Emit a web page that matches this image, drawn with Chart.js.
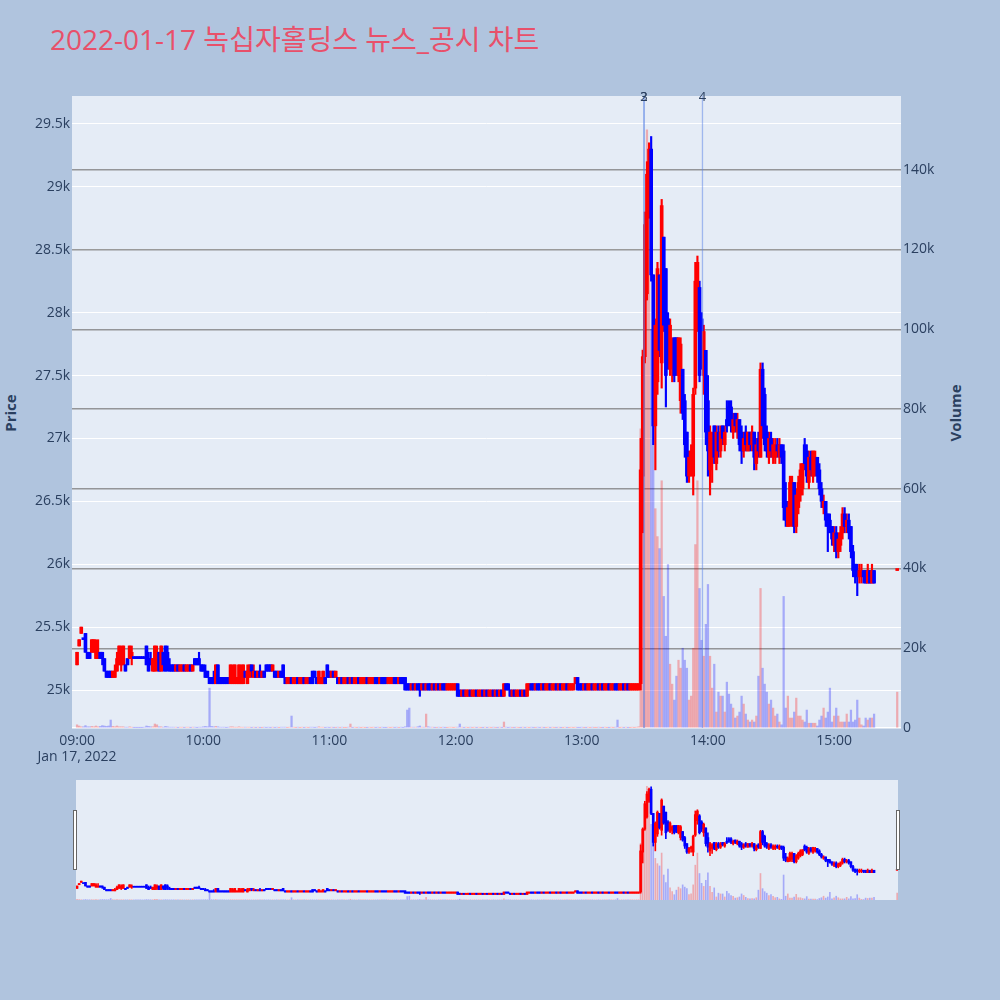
<!DOCTYPE html>
<html>
<head>
<meta charset="utf-8">
<script src="https://cdn.jsdelivr.net/npm/chart.js@4.4.0/dist/chart.umd.min.js"></script>
<style>
  html, body { margin: 0; padding: 0; width: 1000px; height: 1000px; background: #b0c4de; overflow: hidden; }
  #title { position: absolute; left: 50px; top: 25px; font-family: "Open Sans", "Noto Sans CJK KR", sans-serif; font-size: 28px; line-height: 28px; color: #e8506a; white-space: nowrap; }
  .axis-title { position: absolute; font-family: "Open Sans", sans-serif; font-size: 15px; font-weight: bold; color: #2a3f5f; white-space: nowrap; transform: translate(-50%, -50%) rotate(-90deg); }
  #main-wrap { position: absolute; left: 0; top: 0; width: 1000px; height: 770px; }
  #slider-wrap { position: absolute; left: 76px; top: 780px; width: 822px; height: 120px; background: #e5ecf6; }
  .grabber { position: absolute; top: 810px; width: 2px; height: 58px; background: #fff; border: 1px solid #666; }
</style>
</head>
<body>
<div id="title">2022-01-17 녹십자홀딩스 뉴스_공시 차트</div>
<div class="axis-title" style="left:10px; top:413px;">Price</div>
<div class="axis-title" style="left:955px; top:413px;">Volume</div>
<div id="main-wrap"><canvas id="main"></canvas></div>
<div id="slider-wrap"><canvas id="slider"></canvas></div>
<div class="grabber" style="left:73px;"></div>
<div class="grabber" style="left:896px;"></div>
<script>
// one candle per minute, index = minutes after 09:00
const opens = [
  25200,25350,25450,25400,25450,25300,25300,25300,25300,25250,
  25250,25300,25300,25250,25150,25150,25150,25100,25100,25150,
  25200,25200,25200,25200,25250,25250,25250,25250,25250,25250,
  25250,25250,25250,25350,25250,25250,25150,25150,25200,25300,
  25150,25300,25350,25300,25200,25200,25200,25150,25200,25150,
  25150,25200,25150,25150,25200,25150,25250,25250,25250,25200,
  25200,25150,25150,25100,25100,25100,25050,25200,25100,25100,
  25100,25100,25100,25050,25050,25050,25050,25050,25050,25050,
  25150,25050,25100,25200,25100,25150,25100,25150,25100,25150,
  25200,25200,25200,25150,25150,25150,25100,25150,25200,25100,
  25050,25050,25100,25050,25050,25100,25050,25050,25100,25050,
  25050,25100,25150,25150,25100,25050,25050,25050,25100,25200,
  25150,25100,25150,25100,25100,25050,25100,25050,25050,25100,
  25050,25100,25050,25050,25100,25050,25050,25050,25100,25050,
  25050,25050,25100,25100,25050,25100,25100,25100,25050,25050,
  25050,25100,25100,25050,25100,25100,25100,25050,25050,25000,
  25050,25000,25050,25050,25000,25050,25000,25050,25050,25000,
  25050,25000,25050,25000,25050,25050,25000,25000,25000,25000,
  25000,25050,25000,24950,25000,24950,24950,25000,24950,24950,
  25000,24950,24950,25000,24950,25000,24950,24950,25000,24950,
  25000,24950,25000,24950,25050,25050,25000,24950,25000,24950,
  24950,25000,24950,25000,24950,25000,25050,25050,25000,25050,
  25050,25000,25050,25000,25000,25050,25000,25000,25050,25000,
  25050,25000,25000,25050,25000,25000,25000,25050,25100,25050,
  25050,25000,25050,25000,25000,25050,25000,25000,25050,25000,
  25050,25000,25000,25050,25000,25000,25050,25050,25000,25000,
  25050,25000,25050,25000,25000,25000,25000,25000,25050,26700,
  27650,28150,28800,29300,28300,27100,27450,28300,27600,28600,
  28350,27950,27550,27600,27800,27800,27500,27300,27550,27300,
  27050,26700,26850,26700,27400,28000,28200,27950,27500,27700,
  27300,26750,26850,27100,26800,27050,26900,27100,26950,27150,
  27250,27250,27050,27200,27050,27150,27050,26900,27050,26900,
  27050,26950,27050,26800,27000,26850,27550,27350,27050,26850,
  27000,26850,26850,26950,26850,26950,26900,26500,26300,26350,
  26400,26650,26300,26450,26550,26600,26950,26900,26650,26850,
  26700,26750,26850,26750,26600,26450,26500,26400,26350,26300,
  26150,26250,26100,26150,26250,26400,26300,26350,26300,26100,
  26000,25950,25900,25900,25950,25950,25850,25950,25850,25950
];
const highs = [
  25300,25400,25500,25400,25450,25300,25300,25400,25400,25400,
  25400,25300,25300,25250,25150,25150,25150,25150,25200,25300,
  25350,25350,25350,25200,25250,25350,25350,25250,25250,25250,
  25250,25250,25250,25350,25300,25300,25250,25350,25350,25300,
  25350,25300,25350,25350,25250,25200,25200,25200,25200,25200,
  25200,25200,25200,25200,25200,25200,25250,25250,25300,25200,
  25200,25200,25150,25100,25100,25150,25200,25200,25100,25100,
  25100,25100,25100,25200,25200,25200,25100,25200,25200,25200,
  25150,25200,25200,25200,25200,25150,25150,25200,25150,25150,
  25200,25200,25200,25200,25150,25150,25150,25150,25200,25100,
  25100,25100,25100,25100,25100,25100,25100,25100,25100,25100,
  25100,25100,25150,25150,25100,25150,25100,25150,25100,25200,
  25150,25150,25150,25150,25100,25100,25100,25100,25100,25100,
  25100,25100,25100,25100,25100,25100,25100,25100,25100,25100,
  25100,25100,25100,25100,25100,25100,25100,25100,25100,25100,
  25100,25100,25100,25100,25100,25100,25100,25050,25050,25050,
  25050,25050,25050,25050,25050,25050,25050,25050,25050,25050,
  25050,25050,25050,25050,25050,25050,25050,25050,25050,25050,
  25050,25050,25000,25000,25000,25000,25000,25000,25000,25000,
  25000,25000,25000,25000,25000,25000,25000,25000,25000,25000,
  25000,25000,25000,25050,25050,25050,25000,25000,25000,25000,
  25000,25000,25000,25000,25050,25050,25050,25050,25050,25050,
  25050,25050,25050,25050,25050,25050,25050,25050,25050,25050,
  25050,25050,25050,25050,25050,25050,25050,25100,25100,25050,
  25050,25050,25050,25050,25050,25050,25050,25050,25050,25050,
  25050,25050,25050,25050,25050,25050,25050,25050,25050,25050,
  25050,25050,25050,25050,25050,25050,25050,25050,27000,27700,
  28800,29200,29350,29400,28300,27950,28400,28300,28900,28600,
  28350,28000,27950,27800,27800,27800,27800,27800,27550,27350,
  27050,26900,26950,27400,28400,28450,28250,28000,27900,27700,
  27500,27100,27050,27100,27100,27100,27100,27100,27100,27300,
  27300,27300,27200,27200,27200,27150,27100,27050,27100,27050,
  27050,27100,27050,27000,27050,27600,27600,27400,27100,27050,
  27050,27000,27000,27000,27000,26950,26950,26650,26500,26700,
  26700,26650,26600,26700,26800,26800,27000,26950,26900,26900,
  26900,26900,26850,26800,26650,26550,26500,26400,26400,26300,
  26300,26300,26250,26300,26450,26450,26400,26400,26300,26150,
  26000,26000,26000,26000,25950,25950,26000,25950,26000,25950
];
const lows = [
  25200,25350,25450,25400,25300,25250,25250,25300,25300,25250,
  25250,25250,25200,25150,25100,25100,25100,25100,25100,25150,
  25200,25150,25200,25150,25200,25250,25200,25250,25250,25250,
  25250,25250,25250,25200,25150,25200,25150,25150,25150,25150,
  25150,25150,25150,25150,25150,25150,25150,25150,25150,25150,
  25150,25150,25150,25150,25150,25150,25200,25200,25200,25150,
  25150,25100,25100,25050,25050,25050,25050,25050,25050,25050,
  25050,25050,25050,25050,25050,25050,25050,25050,25050,25050,
  25100,25050,25100,25100,25100,25100,25100,25100,25100,25100,
  25150,25150,25150,25150,25100,25100,25100,25100,25100,25050,
  25050,25050,25050,25050,25050,25050,25050,25050,25050,25050,
  25050,25050,25050,25100,25050,25050,25050,25050,25050,25100,
  25100,25100,25100,25100,25050,25050,25050,25050,25050,25050,
  25050,25050,25050,25050,25050,25050,25050,25050,25050,25050,
  25050,25050,25050,25050,25050,25050,25050,25050,25050,25050,
  25050,25050,25050,25050,25050,25050,25000,25000,25000,25000,
  25000,25000,25000,24950,25000,25000,25000,25000,25000,25000,
  25000,25000,25000,25000,25000,25000,25000,25000,25000,25000,
  25000,24950,24950,24950,24950,24950,24950,24950,24950,24950,
  24950,24950,24950,24950,24950,24950,24950,24950,24950,24950,
  24950,24950,24950,24950,25000,25000,24950,24950,24950,24950,
  24950,24950,24950,24950,24950,25000,25000,25000,25000,25000,
  25000,25000,25000,25000,25000,25000,25000,25000,25000,25000,
  25000,25000,25000,25000,25000,25000,25000,25050,25000,25000,
  25000,25000,25000,25000,25000,25000,25000,25000,25000,25000,
  25000,25000,25000,25000,25000,25000,25000,25000,25000,25000,
  25000,25000,25000,25000,25000,25000,25000,25000,25000,26250,
  27600,28100,28750,28250,26950,26750,27350,27650,27400,27850,
  27250,27550,27500,27450,27450,27500,27450,27200,27150,26850,
  26650,26650,26700,26550,27350,27850,27450,27550,27350,26950,
  26700,26550,26650,26800,26750,26850,26850,26950,26900,27050,
  27100,27050,27000,27050,27000,26900,26800,26850,26900,26900,
  26900,26900,26750,26750,26850,26850,27000,26900,26850,26800,
  26850,26800,26800,26850,26800,26800,26350,26300,26300,26300,
  26300,26250,26250,26400,26500,26550,26750,26650,26600,26700,
  26650,26700,26650,26550,26450,26400,26300,26100,26250,26150,
  26100,26050,26050,26100,26200,26250,26250,26200,26050,25900,
  25850,25750,25850,25850,25850,25850,25850,25850,25850,25850
];
const closes = [
  25300,25400,25500,25400,25300,25250,25250,25400,25400,25350,
  25300,25250,25250,25150,25100,25100,25100,25150,25150,25250,
  25350,25300,25350,25150,25200,25350,25300,25250,25250,25250,
  25250,25250,25250,25200,25150,25200,25250,25350,25300,25150,
  25350,25200,25150,25200,25150,25150,25150,25200,25150,25200,
  25200,25150,25200,25200,25150,25200,25200,25200,25200,25150,
  25150,25100,25100,25050,25050,25050,25200,25050,25050,25050,
  25050,25050,25050,25200,25150,25200,25100,25200,25150,25200,
  25100,25150,25200,25150,25150,25100,25150,25100,25150,25100,
  25150,25150,25150,25200,25100,25100,25150,25100,25100,25050,
  25100,25100,25050,25100,25100,25050,25100,25100,25050,25100,
  25100,25050,25050,25100,25050,25150,25100,25150,25050,25100,
  25100,25150,25100,25150,25050,25100,25050,25100,25100,25050,
  25100,25050,25100,25100,25050,25100,25100,25100,25050,25100,
  25100,25100,25050,25050,25100,25050,25050,25050,25100,25100,
  25100,25050,25050,25100,25050,25050,25000,25000,25000,25050,
  25000,25050,25000,25000,25050,25000,25050,25000,25000,25050,
  25000,25050,25000,25050,25000,25000,25050,25050,25050,25050,
  25050,24950,24950,25000,24950,25000,25000,24950,25000,25000,
  24950,25000,25000,24950,25000,24950,25000,25000,24950,25000,
  24950,25000,24950,25050,25000,25000,24950,25000,24950,25000,
  25000,24950,25000,24950,25050,25050,25000,25000,25050,25000,
  25000,25050,25000,25050,25050,25000,25050,25050,25000,25050,
  25000,25050,25050,25000,25050,25050,25050,25100,25000,25000,
  25000,25050,25000,25050,25050,25000,25050,25050,25000,25050,
  25000,25050,25050,25000,25050,25050,25000,25000,25050,25050,
  25000,25050,25000,25050,25050,25050,25050,25050,26750,27650,
  28700,29100,29300,28300,27100,27900,28350,27700,28850,27900,
  27500,27600,27900,27750,27500,27550,27800,27750,27200,26950,
  26700,26850,26900,27350,28250,28400,27500,27650,27850,27050,
  26900,27050,27000,26850,27050,26900,27050,27000,27050,27100,
  27150,27100,27150,27100,27150,26950,26900,27000,26950,27050,
  26950,27050,26850,26950,26900,27550,27100,26950,26900,27000,
  26900,26950,26950,26900,26950,26850,26450,26350,26450,26650,
  26650,26300,26550,26650,26750,26800,26800,26700,26850,26750,
  26900,26850,26700,26600,26500,26500,26350,26300,26250,26200,
  26250,26100,26200,26250,26400,26300,26350,26250,26100,25950,
  25900,25900,25950,25950,25900,25850,25950,25850,25950,25850
];
const volumes = [
  800,500,300,300,600,300,300,400,300,500,
  300,400,600,500,400,500,2000,400,300,500,
  300,300,300,200,200,300,200,100,100,100,
  100,100,200,500,400,300,300,1000,800,300,
  300,200,400,300,200,200,200,200,100,200,
  200,100,200,200,100,200,200,100,200,200,
  300,400,300,10000,400,300,400,300,200,200,
  200,100,200,300,300,200,200,300,200,200,
  200,200,200,100,200,100,200,100,100,200,
  100,200,100,200,100,200,100,200,200,200,
  100,200,3000,200,100,200,100,200,100,200,
  100,200,200,100,200,300,200,200,100,200,
  100,200,100,100,200,100,200,100,100,200,
  1000,100,200,100,200,100,200,100,100,200,
  100,200,100,200,100,200,100,100,200,100,
  200,100,200,100,200,100,300,4500,5000,200,
  200,200,300,500,200,200,3500,300,200,200,
  100,100,200,100,200,100,100,200,200,100,
  200,200,1000,200,100,200,100,200,100,200,
  100,200,100,100,200,100,200,100,200,100,
  100,200,100,1500,200,100,200,100,100,200,
  100,100,200,100,200,100,200,100,100,200,
  100,200,100,100,200,100,200,100,100,200,
  100,100,200,100,100,200,100,200,100,100,
  200,100,100,200,100,200,100,100,200,100,
  100,200,100,100,200,100,200,2000,100,200,
  100,200,100,100,200,100,200,300,75000,95000,
  125000,150000,135000,100000,90000,55000,48000,45000,62000,33000,
  23000,41000,16000,11000,7000,13000,17000,15000,20000,17000,
  15000,7000,8000,20000,46000,62000,35000,22000,18000,26000,
  36000,18000,10000,16000,4000,9000,8000,8000,4000,11500,
  8500,6000,5000,2500,3000,4000,8000,6000,3500,2000,
  1500,2000,1500,3000,13000,35000,15000,11000,9000,6000,
  7000,5000,3000,3500,1500,800,33000,5000,8000,2500,
  2500,4000,7500,3000,3000,2000,1500,4500,1200,1200,
  1200,1200,500,2000,3000,5000,2500,4000,10000,1500,
  3000,5000,3000,1500,1500,1500,3500,1500,4500,1500,
  2000,7000,2500,800,500,2500,2000,2500,2500,3500
];

// closing auction at 15:30
const auctionMinute = 390;
const auctionPrice = 25950;
const auctionVolume = 9000;

// news / disclosure markers
const newsMinutes = [269.6, 269.6, 297.4];
const newsLabels = ['3', '2', '4'];

const hourTicks = [0, 60, 120, 180, 240, 300, 360];
const hourLabels = ['09:00', '10:00', '11:00', '12:00', '13:00', '14:00', '15:00'];
const dateLabel = 'Jan 17, 2022';
const priceTicks = [25000, 25500, 26000, 26500, 27000, 27500, 28000, 28500, 29000, 29500];
const volumeTicks = [0, 20000, 40000, 60000, 80000, 100000, 120000, 140000];

const UP = '#ff0000';
const DOWN = '#0000ff';
const UP_VOL = 'rgba(255,0,0,0.28)';
const DOWN_VOL = 'rgba(0,0,255,0.28)';
const TEXT = '#2a3f5f';

Chart.defaults.font.family = '"Open Sans", sans-serif';

// Build candle points
const allO = opens.concat([auctionPrice]);
const allH = highs.concat([auctionPrice]);
const allL = lows.concat([auctionPrice]);
const allC = closes.concat([auctionPrice]);
const allV = volumes.concat([auctionVolume]);
const xs = opens.map((_, i) => i).concat([auctionMinute]);

// plotly style direction: close vs open, ties broken by previous close
const upFlags = [];
let lastUp = true;
for (let i = 0; i < allC.length; i++) {
    let up;
    if (allC[i] > allO[i]) up = true;
    else if (allC[i] < allO[i]) up = false;
    else if (i > 0 && allC[i] > allC[i - 1]) up = true;
    else if (i > 0 && allC[i] < allC[i - 1]) up = false;
    else up = lastUp;
    lastUp = up;
    upFlags.push(up);
}
const candleColors = upFlags.map(u => u ? UP : DOWN);
const volColors = upFlags.map(u => u ? UP_VOL : DOWN_VOL);

const bodyData = xs.map((x, i) => ({ x: x, y: [allO[i], allC[i]] }));
const wickData = xs.map((x, i) => ({ x: x, y: [allL[i], allH[i]] }));
const volData = xs.map((x, i) => ({ x: x, y: allV[i] }));

function makeDatasets(bodyW, wickW, volW, minLen) {
    return [
        { data: bodyData, backgroundColor: candleColors, barThickness: bodyW, minBarLength: minLen, grouped: false, order: 1, yAxisID: 'y' },
        { data: wickData, backgroundColor: candleColors, barThickness: wickW, grouped: false, order: 2, yAxisID: 'y' },
        { data: volData, backgroundColor: volColors, barThickness: volW, grouped: false, order: 3, yAxisID: 'y2' }
    ];
}

// vertical news lines with their numbers on top
const newsPlugin = {
    id: 'newsLines',
    afterDatasetsDraw(chart) {
        const ctx = chart.ctx;
        const area = chart.chartArea;
        const xScale = chart.scales.x;
        ctx.save();
        ctx.strokeStyle = 'rgba(90,130,230,0.5)';
        ctx.lineWidth = 1.3;
        newsMinutes.forEach(m => {
            const px = xScale.getPixelForValue(m);
            ctx.beginPath();
            ctx.moveTo(px, area.top);
            ctx.lineTo(px, area.bottom);
            ctx.stroke();
        });
        ctx.fillStyle = TEXT;
        ctx.font = '13px "Open Sans", sans-serif';
        ctx.textAlign = 'center';
        ctx.textBaseline = 'middle';
        newsMinutes.forEach((m, i) => {
            ctx.fillText(newsLabels[i], xScale.getPixelForValue(m), area.top + 1);
        });
        ctx.restore();
    }
};

const tickFont = { family: '"Open Sans", sans-serif', size: 14, lineHeight: 1.15 };

new Chart(document.getElementById('main'), {
    type: 'bar',
    data: { datasets: makeDatasets(3, 1.5, 1.6, 2) },
    options: {
        responsive: true,
        maintainAspectRatio: false,
        animation: false,
        layout: { padding: { top: 96, right: 0, bottom: 0, left: 0 } },
        plugins: { legend: { display: false }, tooltip: { enabled: false } },
        scales: {
            x: {
                type: 'linear',
                min: -2.4,
                max: 391.8,
                offset: false,
                grid: { display: false, drawTicks: false },
                border: { display: false },
                afterBuildTicks: ax => { ax.ticks = hourTicks.map(v => ({ value: v })); },
                afterFit: ax => { ax.height = 42; ax.paddingLeft = 0; ax.paddingRight = 0; },
                ticks: {
                    autoSkip: false,
                    maxRotation: 0,
                    padding: 5,
                    color: TEXT,
                    font: tickFont,
                    callback: (v, i) => i === 0 ? [hourLabels[i], dateLabel] : hourLabels[i]
                }
            },
            y: {
                position: 'left',
                min: 24698,
                max: 29722,
                grid: { color: '#ffffff', lineWidth: 1, drawTicks: false },
                border: { display: false },
                afterBuildTicks: ax => { ax.ticks = priceTicks.map(v => ({ value: v })); },
                afterFit: ax => { ax.width = 72; ax.paddingTop = 0; ax.paddingBottom = 0; },
                ticks: { padding: 2, color: TEXT, font: tickFont, callback: v => (v / 1000) + 'k' }
            },
            y2: {
                position: 'right',
                min: 0,
                max: 158500,
                grid: {
                    color: ctx => ctx.tick && ctx.tick.value === 0 ? '#ffffff' : 'rgba(120,120,120,0.75)',
                    lineWidth: 1.5,
                    drawTicks: false
                },
                border: { display: false },
                afterBuildTicks: ax => { ax.ticks = volumeTicks.map(v => ({ value: v })); },
                afterFit: ax => { ax.width = 99; ax.paddingTop = 0; ax.paddingBottom = 0; },
                ticks: { padding: 2, color: TEXT, font: tickFont, callback: v => v === 0 ? '0' : (v / 1000) + 'k' }
            }
        }
    },
    plugins: [
        {
            id: 'plotBg',
            beforeDraw(chart) {
                const a = chart.chartArea;
                chart.ctx.save();
                chart.ctx.fillStyle = '#e5ecf6';
                chart.ctx.fillRect(a.left, a.top, a.right - a.left, a.bottom - a.top);
                chart.ctx.restore();
            }
        },
        newsPlugin
    ]
});

// range slider overview
new Chart(document.getElementById('slider'), {
    type: 'bar',
    data: { datasets: makeDatasets(2, 1, 1, 1) },
    options: {
        responsive: true,
        maintainAspectRatio: false,
        animation: false,
        layout: { padding: 0 },
        plugins: { legend: { display: false }, tooltip: { enabled: false } },
        scales: {
            x: { type: 'linear', display: false, min: -0.5, max: 390.4, offset: false },
            y: { display: false, min: 24720, max: 29680 },
            y2: { display: false, min: 0, max: 158500 }
        }
    }
});
</script>
</body>
</html>
